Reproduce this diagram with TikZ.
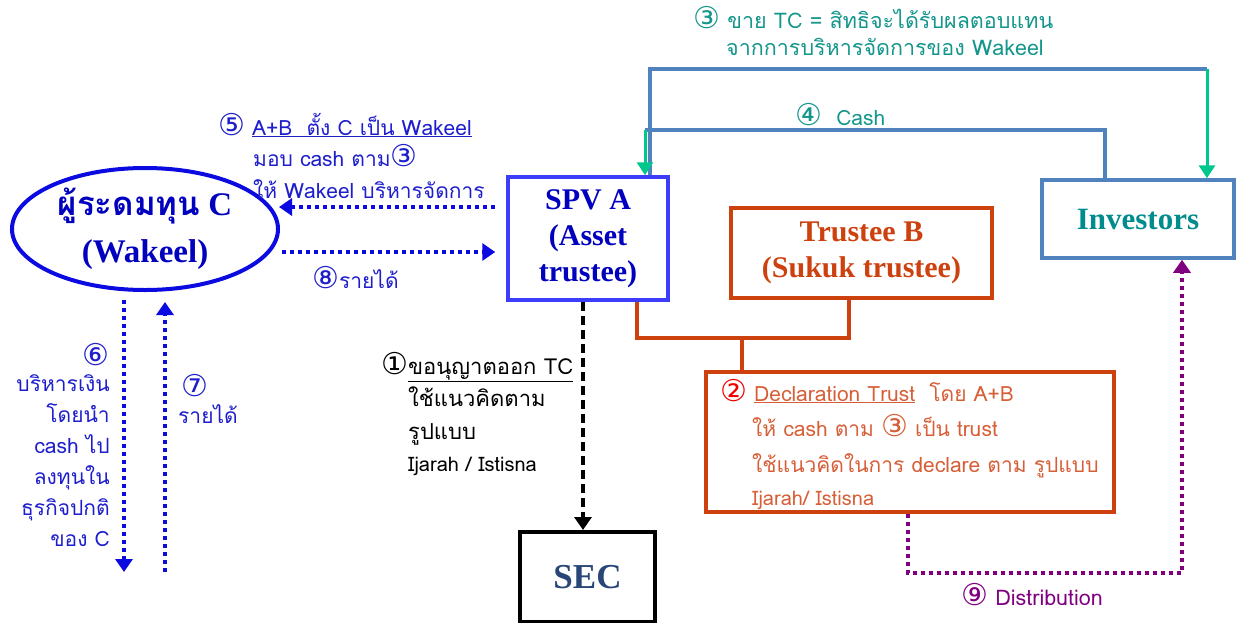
\documentclass[tikz,border=0pt]{standalone}
\usepackage{fontspec}
\setmainfont{Liberation Serif}
\newfontfamily\thai[Script=Thai]{Loma}
\newfontfamily\cd{DejaVu Sans}
\newcommand\cnum[1]{{\cd\fontsize{30}{30}\selectfont #1}}
\usetikzlibrary{arrows.meta,shapes.geometric}
\definecolor{cEll}{RGB}{10,10,225}
\definecolor{cEllT}{RGB}{0,0,190}
\definecolor{cSpv}{RGB}{60,60,250}
\definecolor{cLab}{RGB}{30,30,205}
\definecolor{cOr}{RGB}{205,65,15}
\definecolor{cOrT}{RGB}{215,95,55}
\definecolor{cRed}{RGB}{240,0,0}
\definecolor{cSteel}{RGB}{80,130,190}
\definecolor{cGreen}{RGB}{0,200,140}
\definecolor{cTeal}{RGB}{20,150,140}
\definecolor{cInv}{RGB}{0,140,140}
\definecolor{cPur}{RGB}{128,0,128}
\definecolor{cSec}{RGB}{40,70,120}
\begin{document}
\begin{tikzpicture}[x=1pt,y=-1pt,
  boxst/.style={draw, line width=3.5pt, align=center, inner sep=0pt},
  ttl/.style={font=\fontsize{30}{36}\selectfont\bfseries},
  lab/.style={font=\thai\fontsize{21}{31}\selectfont, inner sep=0pt},
  sml/.style={font=\thai\fontsize{20}{24}\selectfont},
  bdot/.style={draw=cEll, line width=4pt, dash pattern=on 4pt off 4pt},
  btip/.style={-{Triangle[width=17pt,length=13pt]}},
  gline/.style={draw=cGreen, line width=3pt, -{Triangle[width=16pt,length=13pt]}},
  sline/.style={draw=cSteel, line width=3.5pt},
]
\useasboundingbox (0,0) rectangle (1240,622);

% nodes
\node[ellipse, draw=cEll, line width=4pt, minimum width=266pt, minimum height=122pt, inner sep=0pt,
  align=center, text=cEllT, font=\fontsize{33}{47}\selectfont\bfseries] (C) at (145,229)
  {{\thai ผู้ระดมทุน} C\\(Wakeel)};
\node[boxst, ttl, draw=cSpv, text=cEllT, minimum width=160pt, minimum height=123pt] (A) at (588,238.5)
  {SPV A\\(Asset\\trustee)};
\node[boxst, ttl, draw=cOr, text=cOr, minimum width=261pt, minimum height=90pt] (B) at (861.5,253)
  {Trustee B\\(Sukuk trustee)};
\node[boxst, draw=cSteel, text=cInv, font=\fontsize{31}{36}\selectfont\bfseries,
  minimum width=192pt, minimum height=78pt] (I) at (1138,219) {\raisebox{-4pt}{Investors}};
\node[boxst, draw=black, line width=4pt, text=cSec, font=\fontsize{35}{40}\selectfont\bfseries,
  minimum width=135pt, minimum height=90pt] (S) at (587.5,577) {SEC};
\node[boxst, draw=cOr, minimum width=408pt, minimum height=140pt] (D) at (910,442) {};

% top connectors
\coordinate (k3) at (1207,69);
\coordinate (k4) at (645,130);
\draw[sline] ([xshift=62pt]A.north) |- (k3);
\draw[gline] (k3) -- (k3 |- I.north);
\draw[sline] ([xshift=-33pt]I.north) |- (k4);
\draw[gline] (k4) -- (k4 |- A.north);

\node[lab, text=cTeal, anchor=base west, font=\thai\fontsize{21.5}{30}\selectfont] (t3a) at (693,28) {\cnum{③} ขาย TC = สิทธิจะได้รับผลตอบแทน};
\node[lab, text=cTeal, anchor=base west, font=\thai\fontsize{21.5}{30}\selectfont] (t3b) at (726,55) {จากการบริหารจัดการของ Wakeel};
\node[lab, text=cTeal, anchor=base west] (t4) at (795,125) {\cnum{④}\ \ Cash};

% C <-> A
\draw[bdot, btip] ([xshift=-11pt,yshift=31.5pt]A.west) -- ([xshift=-1pt,yshift=22pt]C.east);
\draw[bdot, btip] ([xshift=2pt,yshift=-23pt]C.east) -- ([xshift=-11pt,yshift=-13.5pt]A.west);

\node[lab, text=cLab, anchor=base west] (l5a) at (218,135) {\cnum{⑤} \underline{A+B\ \ ตั้ง C เป็น Wakeel}};
\node[lab, text=cLab, anchor=base west] (l5b) at (253,166) {มอบ cash ตาม\cnum{③}};
\node[lab, text=cLab, anchor=base west] (l5c) at (253,198) {ให้ Wakeel บริหารจัดการ};
\node[lab, text=cLab, anchor=base west] (l8) at (312,288) {\cnum{⑧}รายได้};

% C vertical
\coordinate (e6) at (124,572);
\coordinate (e7) at (165,572);
\draw[bdot, btip, shorten <=8pt] (C.south -| e6) -- (e6);
\draw[bdot, btip, shorten >=10pt] (e7) -- (C.south -| e7);

\node[lab, text=cLab, align=right, anchor=north east] (l6) at (110,343)
  {\cnum{⑥}\\[-5pt]บริหารเงิน\\โดยนำ\\cash ไป\\ลงทุนใน\\ธุรกิจปกติ\\ของ C};
\node[lab, text=cLab, align=left, anchor=north west] (l7) at (178,374)
  {\,\cnum{⑦}\\[-4pt]รายได้};

% A -> SEC
\draw[black, line width=3.5pt, dash pattern=on 9pt off 5pt, btip]
  ([xshift=-5pt]A.south) -- ([xshift=-5pt]A.south |- S.north);
\node[lab, anchor=base west, font=\thai\fontsize{22}{30}\selectfont] (l1a) at (381,374) {\cnum{①}\underline{ขอนุญาตออก TC}};
\node[lab, anchor=base west, font=\thai\fontsize{22}{30}\selectfont] (l1b) at (408,406) {ใช้แนวคิดตาม};
\node[lab, anchor=base west, font=\thai\fontsize{22}{30}\selectfont] (l1c) at (408,439) {รูปแบบ};
\node[lab, anchor=base west, sml] (l1d) at (408,471) {Ijarah / Istisna};

% A,B -> D
\coordinate (j) at (742,338);
\draw[draw=cOr, line width=3.5pt] ([xshift=49pt]A.south) |- (j) -| ([xshift=-12.5pt]B.south);
\draw[draw=cOr, line width=3.5pt] (j) -- (j |- D.north);

\node[lab, text=cOrT, anchor=base west] (d1) at (720,401)
  {{\color{cRed}\cnum{②}} \underline{Declaration Trust}\ \ โดย A+B};
\node[lab, text=cOrT, anchor=base west] (d2) at (752,436) {ให้ cash ตาม \cnum{③} เป็น trust};
\node[lab, text=cOrT, anchor=base west] (d3) at (752,472) {ใช้แนวคิดในการ declare ตาม รูปแบบ};
\node[lab, text=cOrT, anchor=base west, sml] (d4) at (752,505) {Ijarah/ Istisna};

% D -> Investors
\coordinate (p9) at (1182,573);
\draw[draw=cPur, line width=4pt, dash pattern=on 4pt off 4pt, -{Triangle[width=17pt,length=13pt]}]
  ([xshift=-2pt]D.south) |- (p9) -- ([xshift=44pt]I.south);
\node[lab, text=cPur, anchor=base west, font=\thai\fontsize{21.5}{30}\selectfont] (l9) at (961,605) {\cnum{⑨} Distribution};
\end{tikzpicture}
\end{document}
